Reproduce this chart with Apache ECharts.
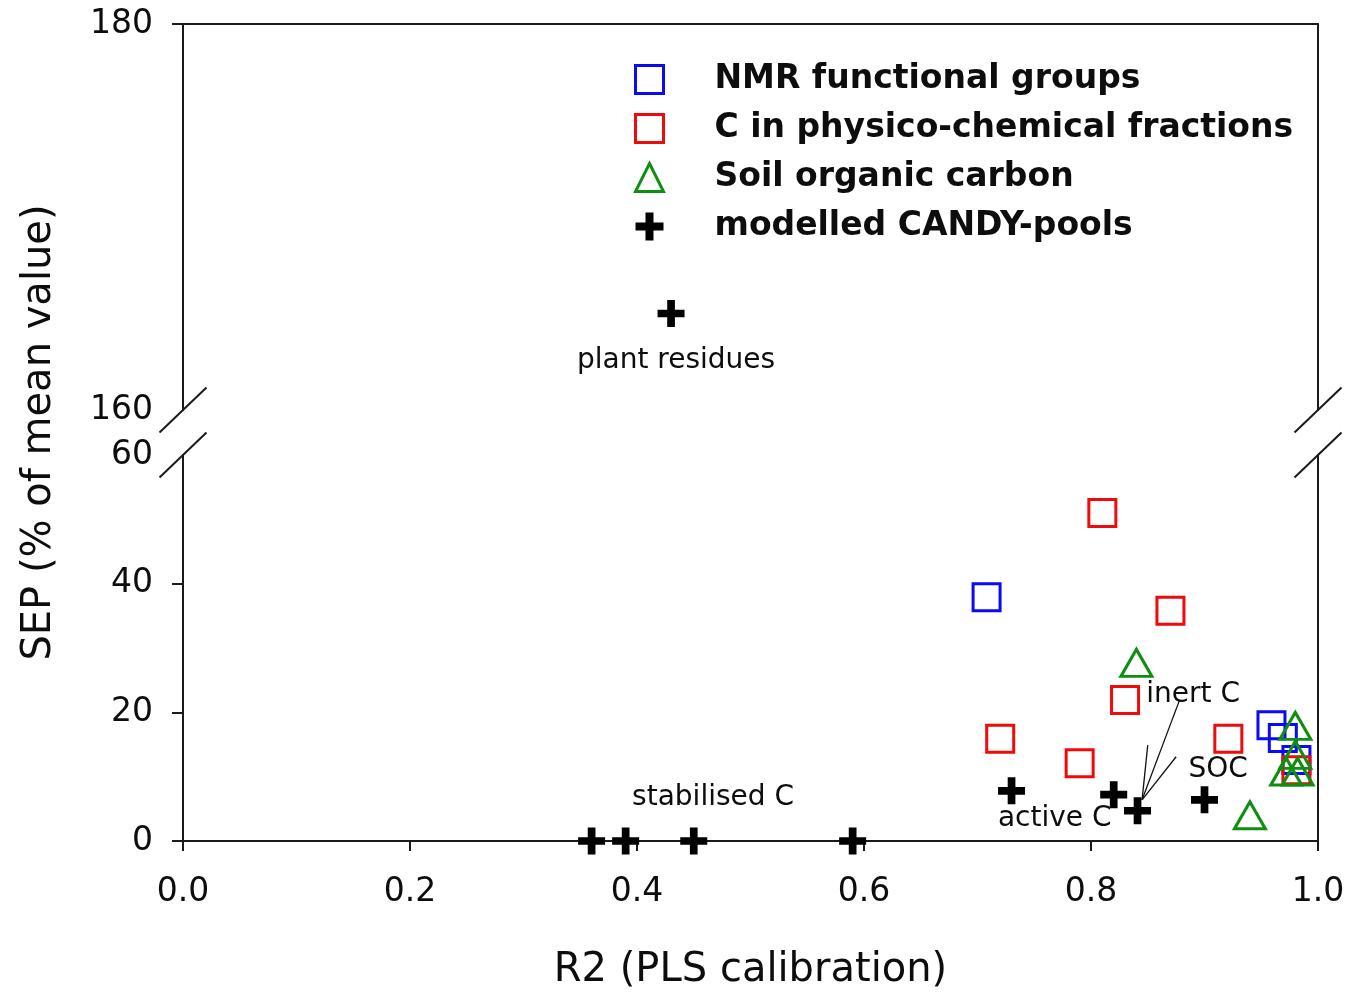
<!DOCTYPE html>
<html>
<head>
<meta charset="utf-8">
<title>SEP vs R2</title>
<script src="https://cdn.jsdelivr.net/npm/echarts@6/dist/echarts.min.js"></script>
<style>
  html, body { margin: 0; padding: 0; background: #fff; }
  #chart { width: 1348px; height: 992px; }
</style>
</head>
<body>
<div id="chart"></div>
<script>
// ---- data: R2 of the PLS calibration and SEP (% of mean value) ----
const nmrR2  = [0.708, 0.959, 0.969, 0.981];
const nmrSEP = [37.9, 18.0, 16.0, 12.6];

const fracR2  = [0.810, 0.870, 0.830, 0.720, 0.790, 0.921, 0.981];
const fracSEP = [51.0, 35.8, 21.9, 15.9, 12.1, 15.9, 11.0];

const socR2  = [0.840, 0.940, 0.980, 0.980, 0.972, 0.982];
const socSEP = [27.7, 4.0, 17.9, 13.4, 10.8, 10.8];

const candyR2    = [0.36, 0.39, 0.45, 0.59, 0.730, 0.820, 0.841, 0.900, 0.430];
const candySEP   = [0, 0, 0, 0, 7.8, 7.2, 4.7, 6.4, 165.0];
const candyNames = ['', '', '', '', '', '', '', '', 'plant residues'];

// free-standing text notes (R2, SEP) and leader lines
const noteTexts = ['stabilised C', 'active C', 'inert C', 'SOC'];
const noteR2    = [0.467, 0.768, 0.890, 0.912];
const noteSEP   = [6.8, 3.5, 22.7, 11.1];
const leaderFrom = [[0.878, 21.9], [0.875, 13.1], [0.850, 14.9]];
const leaderTo   = [0.845, 6.4];

const seriesNames = ['NMR functional groups', 'C in physico-chemical fractions',
                     'Soil organic carbon', 'modelled CANDY-pools'];
const xTicks = [0, 0.2, 0.4, 0.6, 0.8, 1.0];

// ---- layout ----
const FONT = 'DejaVu Sans';
const GL = 183, GR = 30, UP_TOP = 24, SEG_H = 386, LO_TOP = 455;
const W = 1348;
const AX = '#1a1a1a';
const TXT = '#0d0d0d';
const BLUE = '#0a0af5', RED = '#f00a0a', GREEN = '#0f8f0f';
const BREAK = 60;   // values above this go to the upper panel

const pairs = (xs, ys) => xs.map((x, i) => [x, ys[i]]);
const crossPath = 'path://M10,0H18V10H28V18H18V28H10V18H0V10H10Z';

const chart = echarts.init(document.getElementById('chart'), null, { renderer: 'canvas' });

const candyAll = candyR2.map((x, i) => ({ name: candyNames[i], value: [x, candySEP[i]] }));
const candyLow = candyAll.filter(d => d.value[1] <= BREAK);
const candyHigh = candyAll.filter(d => d.value[1] > BREAK).map(d => ({
  ...d,
  label: { show: !!d.name, position: 'bottom', distance: 20, offset: [5, 0], formatter: '{b}',
           fontFamily: FONT, fontSize: 28, color: TXT }
}));

const outline = (c) => ({ color: 'rgba(0,0,0,0)', borderColor: c, borderWidth: 3, opacity: 1 });

const lineStyleAxis = { color: AX, width: 2 };
const tickLabel = { fontFamily: FONT, fontSize: 33, color: TXT };

const option = {
  backgroundColor: '#fff',
  animation: false,
  grid: [
    { left: GL, right: GR, top: UP_TOP, height: SEG_H },
    { left: GL, right: GR, top: LO_TOP, height: SEG_H }
  ],
  xAxis: [
    { gridIndex: 0, type: 'value', position: 'top', min: 0, max: 1,
      axisLine: { show: true, onZero: false, lineStyle: lineStyleAxis },
      axisTick: { show: false }, axisLabel: { show: false }, splitLine: { show: false } },
    { gridIndex: 1, type: 'value', position: 'bottom', min: 0, max: 1, interval: 0.2,
      axisLine: { show: true, onZero: false, lineStyle: lineStyleAxis },
      axisTick: { show: true, inside: false, length: 10, lineStyle: lineStyleAxis },
      axisLabel: { ...tickLabel, margin: 35, formatter: v => v.toFixed(1),
                   customValues: xTicks },
      splitLine: { show: false },
      name: 'R2 (PLS calibration)', nameLocation: 'middle', nameGap: 110,
      nameTextStyle: { fontFamily: FONT, fontSize: 40, color: TXT } }
  ],
  yAxis: [
    { gridIndex: 0, type: 'value', position: 'left', min: 160, max: 180, interval: 20,
      axisLine: { show: true, onZero: false, lineStyle: lineStyleAxis },
      axisTick: { show: true, length: 11, lineStyle: lineStyleAxis, customValues: [180] },
      axisLabel: { ...tickLabel, margin: 30 },
      splitLine: { show: false } },
    { gridIndex: 0, type: 'value', position: 'right', min: 160, max: 180,
      axisLine: { show: true, onZero: false, lineStyle: lineStyleAxis },
      axisTick: { show: false }, axisLabel: { show: false }, splitLine: { show: false } },
    { gridIndex: 1, type: 'value', position: 'left', min: 0, max: 60, interval: 20,
      axisLine: { show: true, onZero: false, lineStyle: lineStyleAxis },
      axisTick: { show: true, length: 11, lineStyle: lineStyleAxis, customValues: [0, 20, 40] },
      axisLabel: { ...tickLabel, margin: 30 },
      splitLine: { show: false } },
    { gridIndex: 1, type: 'value', position: 'right', min: 0, max: 60,
      axisLine: { show: true, onZero: false, lineStyle: lineStyleAxis },
      axisTick: { show: false }, axisLabel: { show: false }, splitLine: { show: false } }
  ],
  legend: {
    data: [
      { name: seriesNames[0], itemStyle: outline(BLUE) },
      { name: seriesNames[1], itemStyle: outline(RED) },
      { name: seriesNames[2], itemStyle: outline(GREEN) },
      { name: seriesNames[3] }
    ],
    orient: 'vertical',
    left: 634, top: 63, padding: 0,
    itemWidth: 28, itemHeight: 28, itemGap: 16,
    selectedMode: false,
    textStyle: { fontFamily: FONT, fontWeight: 'bold', fontSize: 33, lineHeight: 33,
                 color: TXT, padding: [0, 0, 0, 46] }
  },
  series: [
    { name: seriesNames[0], type: 'scatter', xAxisIndex: 1, yAxisIndex: 2,
      symbol: 'rect', symbolSize: 27, itemStyle: outline(BLUE),
      data: pairs(nmrR2, nmrSEP), z: 3 },
    { name: seriesNames[1], type: 'scatter', xAxisIndex: 1, yAxisIndex: 2,
      symbol: 'rect', symbolSize: 27, itemStyle: outline(RED),
      data: pairs(fracR2, fracSEP), z: 3 },
    { name: seriesNames[2], type: 'scatter', xAxisIndex: 1, yAxisIndex: 2,
      symbol: 'triangle', symbolSize: [31, 27], itemStyle: outline(GREEN),
      data: pairs(socR2, socSEP), z: 4 },
    { name: seriesNames[3], type: 'scatter', xAxisIndex: 1, yAxisIndex: 2,
      symbol: crossPath, symbolSize: 27, itemStyle: { color: '#000', opacity: 1 },
      data: candyLow, z: 5 },
    { name: seriesNames[3], type: 'scatter', xAxisIndex: 0, yAxisIndex: 0,
      symbol: crossPath, symbolSize: 27, itemStyle: { color: '#000', opacity: 1 },
      data: candyHigh, z: 5 },
    { name: 'notes', type: 'scatter', xAxisIndex: 1, yAxisIndex: 2,
      symbolSize: 1, silent: true, itemStyle: { color: 'rgba(0,0,0,0)', opacity: 1 },
      label: { show: true, position: 'inside', formatter: '{b}',
               fontFamily: FONT, fontSize: 28, color: TXT },
      data: noteTexts.map((t, i) => ({ name: t, value: [noteR2[i], noteSEP[i]] })),
      markLine: {
        silent: true, symbol: 'none', animation: false,
        label: { show: false },
        lineStyle: { color: '#111', width: 1.3, type: 'solid', opacity: 1 },
        data: leaderFrom.map(p => [{ coord: p }, { coord: leaderTo }])
      },
      z: 6 }
  ]
};

chart.setOption(option);

// axis-break slashes and the rotated y-axis title
const UP_BOT = UP_TOP + SEG_H;          // 160 level
const xLeft = GL, xRight = W - GR;
const slash = (cx, cy) => ({
  type: 'line', silent: true,
  shape: { x1: cx - 23.5, y1: cy + 22.5, x2: cx + 23.5, y2: cy - 22.5 },
  style: { stroke: AX, lineWidth: 2 }
});
chart.setOption({
  graphic: [
    slash(xLeft, UP_BOT), slash(xLeft, LO_TOP),
    slash(xRight, UP_BOT), slash(xRight, LO_TOP),
    { type: 'text', x: 40, y: (UP_TOP + LO_TOP + SEG_H) / 2, rotation: Math.PI / 2,
      style: { text: 'SEP (% of mean value)', fontFamily: FONT, fontSize: 40,
               fill: TXT, textAlign: 'center', textVerticalAlign: 'middle' } }
  ]
});
</script>
</body>
</html>
